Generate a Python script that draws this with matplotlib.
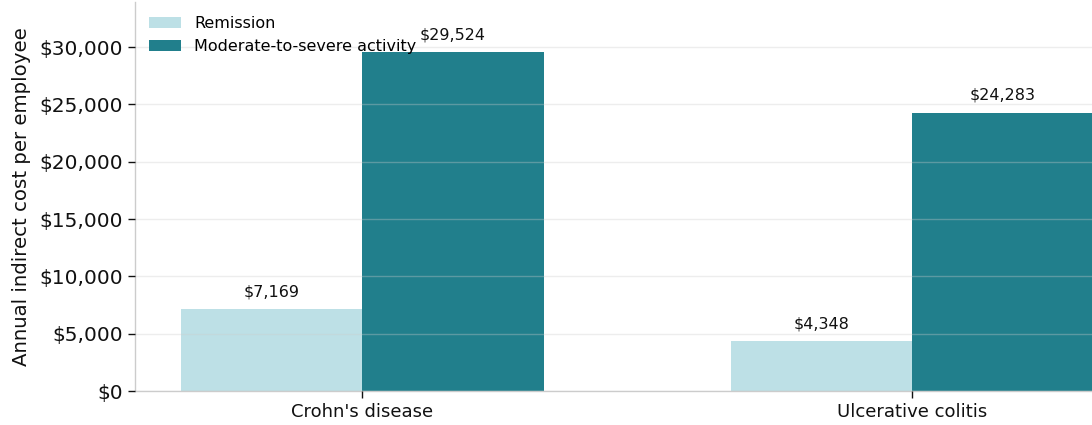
import matplotlib
matplotlib.use("Agg")
import matplotlib.pyplot as plt
import numpy as np

# Annual indirect cost per employee by disease and activity
categories = ["Crohn's disease", "Ulcerative colitis"]
remission = [7169, 4348]
moderate_severe = [29524, 24283]
series_names = ["Remission", "Moderate-to-severe activity"]

light = "#bde0e6"
dark = "#217f8c"

fig = plt.figure(figsize=(10.92, 4.25), dpi=100)
ax = fig.add_axes([0.1236, 0.08, 0.9197, 0.916])

x = np.arange(len(categories))
w = 0.33
b1 = ax.bar(x - w / 2, remission, w, color=light, label=series_names[0], zorder=1)
b2 = ax.bar(x + w / 2, moderate_severe, w, color=dark, label=series_names[1], zorder=1)

for bars, vals in [(b1, remission), (b2, moderate_severe)]:
    for r, v in zip(bars, vals):
        ax.annotate(f"${v:,}", (r.get_x() + r.get_width() / 2, v),
                    xytext=(0, 7), textcoords="offset points",
                    ha="center", va="bottom", fontsize=11.5, color="#111111")

ax.set_xlim(-0.413, 1.413)
ax.set_ylim(0, max(moderate_severe) * 1.15)
ax.set_yticks(np.arange(0, 30001, 5000))
ax.yaxis.set_major_formatter(matplotlib.ticker.FuncFormatter(lambda v, p: f"${v:,.0f}"))
ax.set_xticks(x)
ax.set_xticklabels(categories, fontsize=13)
ax.tick_params(axis="y", labelsize=14.5, length=5, width=1, colors="#111111")
ax.tick_params(axis="x", length=5, width=1, colors="#111111")
ax.set_ylabel("Annual indirect cost per employee", fontsize=14.2, labelpad=6, color="#111111")

ax.grid(axis="y", color="#cccccc", alpha=0.35, linewidth=1, zorder=2)
ax.set_axisbelow(False)
for s in ["top", "right"]:
    ax.spines[s].set_visible(False)
for s in ["left", "bottom"]:
    ax.spines[s].set_color("#cccccc")
    ax.spines[s].set_linewidth(1)

ax.legend(loc="upper left", frameon=False, fontsize=11.5)

fig.savefig("out.png", dpi=100)
